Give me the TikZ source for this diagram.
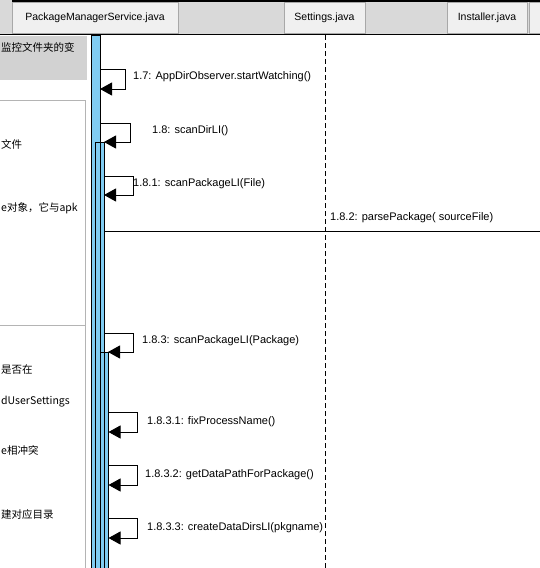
\documentclass[tikz,border=0pt]{standalone}
\usepackage{fontspec}
\setmainfont{Liberation Sans}
\newfontfamily\cjkfont{Noto Sans CJK SC}
\usetikzlibrary{arrows.meta}
\definecolor{hdrgray}{HTML}{D9D9D9}
\definecolor{tabfill}{HTML}{F0F0F0}
\definecolor{tabedge}{HTML}{A8A8A8}
\definecolor{boxgray}{HTML}{D2D2D2}
\definecolor{panedge}{HTML}{B4B4B4}
\definecolor{barblue}{HTML}{80CCF2}
\tikzset{
  tabbox/.style={draw=tabedge, fill=tabfill, line width=1pt},
  tabtext/.style={font=\fontsize{10.5}{12}\selectfont, inner sep=0pt},
  actbar/.style={fill=barblue, draw=black, line width=0.9pt},
  msg/.style={draw=black, line width=1pt, -{Triangle[length=12pt,width=13pt]}},
  callline/.style={draw=black, line width=1pt},
  lbl/.style={font=\fontsize{11}{13}\selectfont, anchor=west, inner sep=0pt},
  side/.style={font=\cjkfont\fontsize{10.5}{13}\selectfont, anchor=west, inner sep=0pt},
  lifeline/.style={draw=black, line width=1pt, dash pattern=on 5pt off 3pt}
}
\begin{document}
\begin{tikzpicture}[x=1pt,y=-1pt]
\useasboundingbox (0,0) rectangle (540,568);
\clip (0,0) rectangle (540,568);
\fill[white] (0,0) rectangle (540,568);
% header
\fill[hdrgray] (0,0) rectangle (540,34);
\draw[black, line width=1.2pt] (12,1) -- (540,1);
\draw[black, line width=1.2pt] (0,34.5) -- (540,34.5);
\draw[tabbox] (12,2.5) rectangle (178,33.5);
\node[tabtext] (t1) at (95,18) {PackageManagerService.java};
\draw[tabbox] (284,2.5) rectangle (365,33.5);
\node[tabtext] (t2) at (324.5,18) {Settings.java};
\draw[tabbox] (447,2.5) rectangle (527,33.5);
\node[tabtext] (t3) at (487,18) {Installer.java};
\draw[tabbox] (529.5,2.5) rectangle (560,33.5);
% left panel
\fill[boxgray] (0,35.5) rectangle (87,80);
\node[side] (p0) at (1,47) {监控文件夹的变};
\draw[panedge, line width=1pt] (-1,100.5) -- (85.5,100.5) -- (85.5,570);
\draw[panedge, line width=1pt] (-1,325.5) -- (85.5,325.5);
\node[side] (p1) at (1,144) {文件};
\node[side] (p2) at (1,208) {e对象，它与apk};
\node[side] (p3) at (1,370) {是否在};
\node[side] (p4) at (1,402) {dUserSettings};
\node[side] (p5) at (1,450) {e相冲突};
\node[side] (p6) at (1,514) {建对应目录};
% lifeline of Settings
\coordinate (ls0) at (325,35);
\coordinate (ls1) at (325,570);
\draw[lifeline] (ls0) -- (ls1);
% activation bars
\draw[actbar] (91.5,35) rectangle (100,575);
\draw[actbar] (95.5,142) rectangle (104,575);
\draw[actbar] (100,352) rectangle (108.5,575);
\draw[black, line width=0.9pt] (100,142) -- (100,575) (104,352) -- (104,575);
% 1.7
\coordinate (a17) at (100,69);
\coordinate (b17) at (100,89);
\draw[msg] (a17) -- (125,69) -- (125,89) -- (b17);
\node[lbl] (l17) at (133,77) {1.7: AppDirObserver.startWatching()};
% 1.8
\coordinate (a18) at (100,123);
\coordinate (b18) at (104,142);
\draw[msg] (a18) -- (130,123) -- (130,142) -- (b18);
\node[lbl] (l18) at (152,131) {1.8: scanDirLI()};
% 1.8.1
\coordinate (a181) at (104,176);
\coordinate (b181) at (104,195);
\draw[msg] (a181) -- (133,176) -- (133,195) -- (b181);
\node[lbl] (l181) at (133,184) {1.8.1: scanPackageLI(File)};
% 1.8.2
\coordinate (a182) at (104,231);
\coordinate (b182) at (545,231);
\draw[callline] (a182) -- (b182);
\node[lbl] (l182) at (330,218) {1.8.2: parsePackage( sourceFile)};
% 1.8.3
\coordinate (a183) at (104,333);
\coordinate (b183) at (108,352);
\draw[msg] (a183) -- (133,333) -- (133,352) -- (b183);
\node[lbl] (l183) at (142,341) {1.8.3: scanPackageLI(Package)};
% 1.8.3.1
\coordinate (a1831) at (108.5,412);
\coordinate (b1831) at (108.5,432);
\draw[msg] (a1831) -- (137,412) -- (137,432) -- (b1831);
\node[lbl] (l1831) at (147,422) {1.8.3.1: fixProcessName()};
% 1.8.3.2
\coordinate (a1832) at (108.5,465);
\coordinate (b1832) at (108.5,485);
\draw[msg] (a1832) -- (137,465) -- (137,485) -- (b1832);
\node[lbl] (l1832) at (145,475) {1.8.3.2: getDataPathForPackage()};
% 1.8.3.3
\coordinate (a1833) at (108.5,518);
\coordinate (b1833) at (108.5,538);
\draw[msg] (a1833) -- (137,518) -- (137,538) -- (b1833);
\node[lbl] (l1833) at (147,528) {1.8.3.3: createDataDirsLI(pkgname)};
\end{tikzpicture}
\end{document}
